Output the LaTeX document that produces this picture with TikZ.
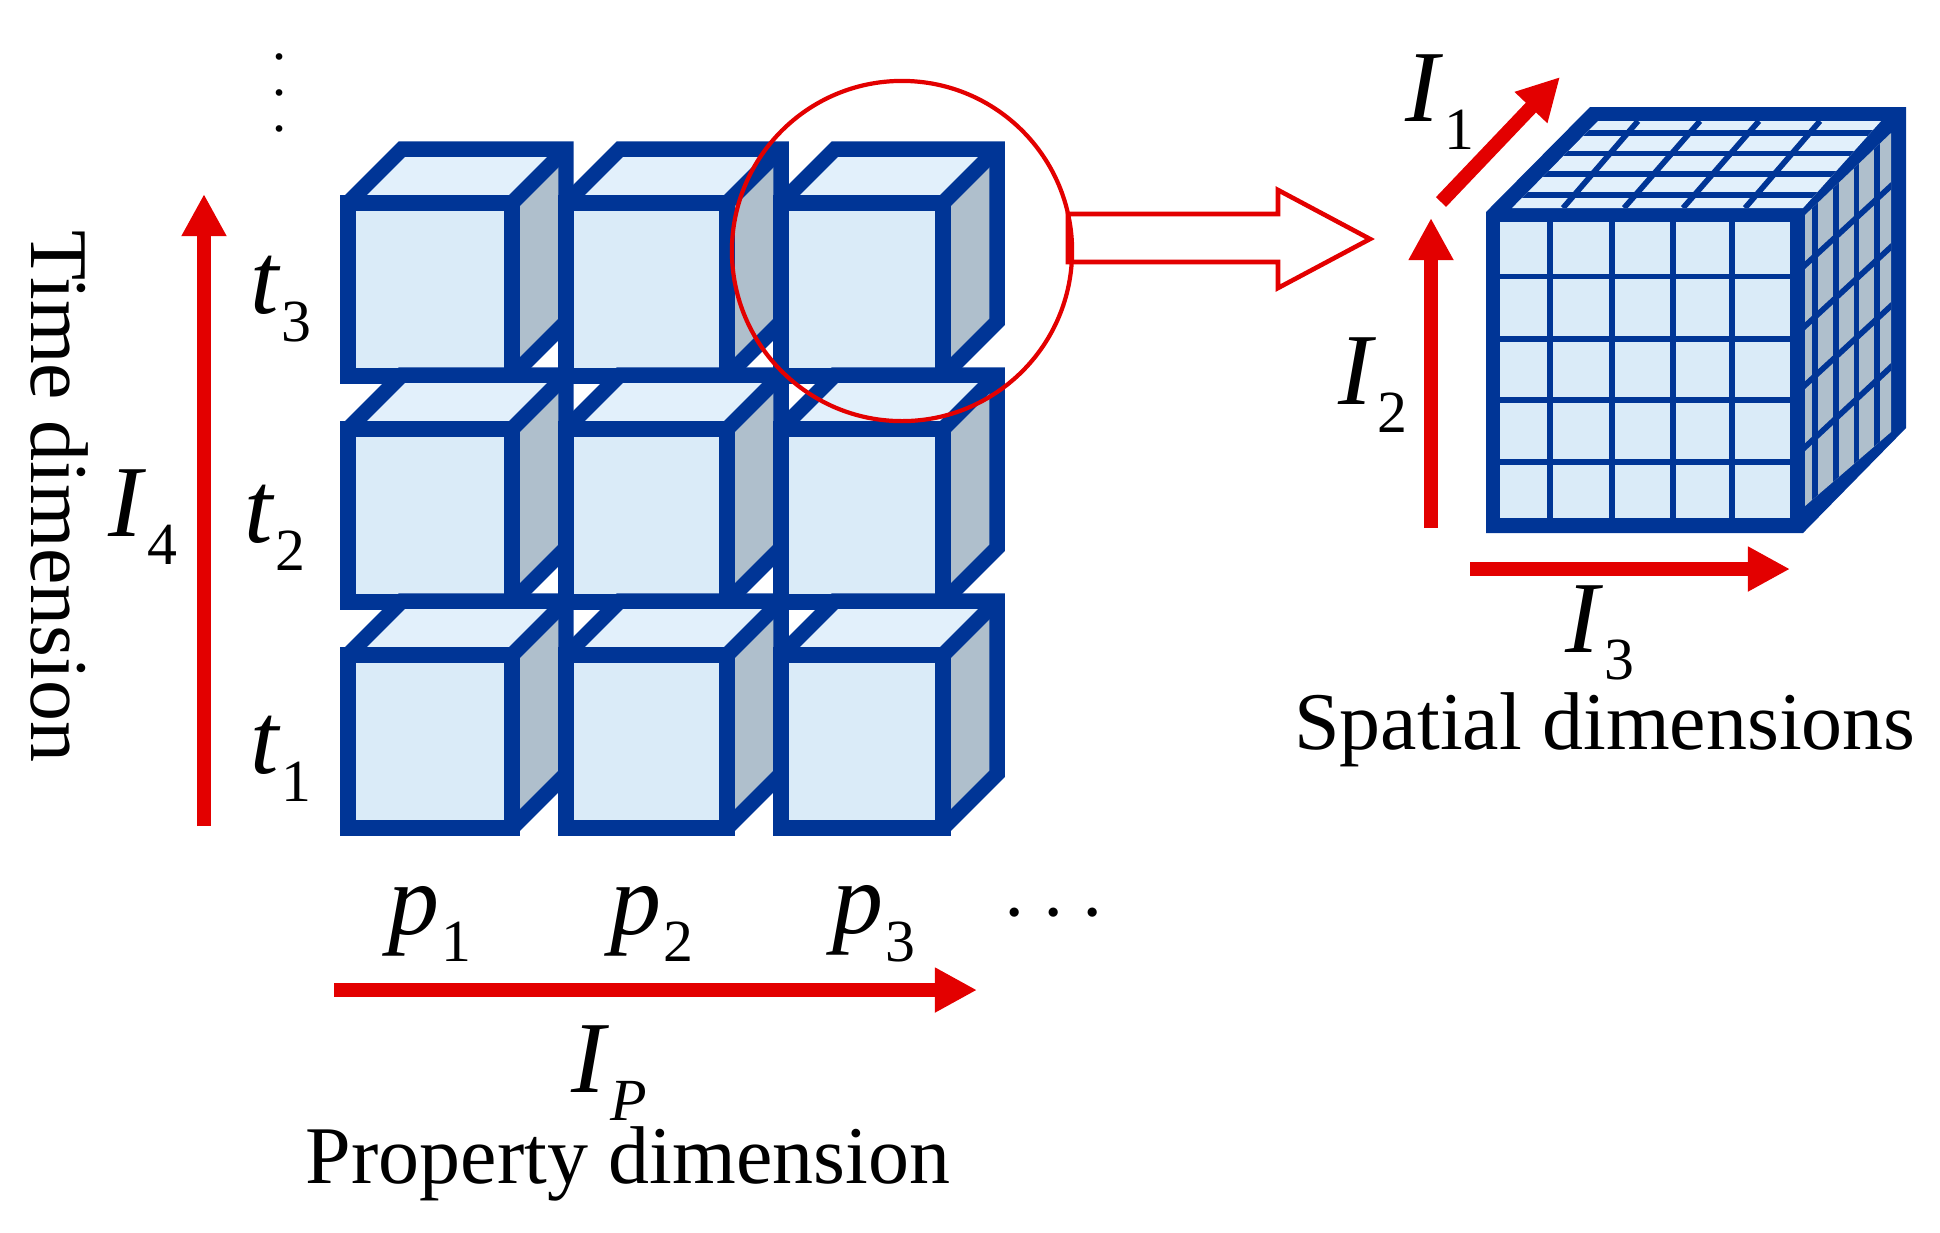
\documentclass[tikz,border=0pt]{standalone}
\usepackage{fontspec}
\setmainfont{Liberation Serif}
\usepackage{tikz}
\usetikzlibrary{arrows.meta, positioning}
\definecolor{cubeblue}{HTML}{003596}
\definecolor{facefront}{HTML}{DAEBF8}
\definecolor{facetop}{HTML}{E2F0FB}
\definecolor{faceside}{HTML}{AFBFCC}
\definecolor{axisred}{HTML}{E30000}
\newcommand{\idx}[2]{\fontsize{29}{32}\selectfont\textit{#1}\raisebox{-0.27em}{\fontsize{17}{18}\selectfont\hspace{0.02em}#2}}

\begin{document}
\begin{tikzpicture}[
  x=0.01cm, y=-0.01cm,
  edge/.style={draw=cubeblue, line width=4.4pt, miter limit=10},
  axis/.style={-{Triangle[length=12pt, width=12pt]}, line width=4pt, axisred},
  lbl/.style={inner sep=0pt},
  captxt/.style={inner sep=0pt, font=\fontsize{23.3}{26}\selectfont},
  cell/.style={cubeblue, line width=1.6pt},
]
  \useasboundingbox (0,0) rectangle (1940,1232);

  % Small cubes: property columns and time rows
  \foreach \cx/\cw in {348/164, 566/161, 781/162} {
    \foreach \cy in {203, 429, 655} {
      \fill[facefront] (\cx,\cy) rectangle ++(\cw,173);
      \fill[facetop] (\cx,\cy) -- ++(54,-54) -- ++(\cw,0) -- ++(-54,54) -- cycle;
      \fill[faceside] (\cx+\cw,\cy) -- ++(54,-54) -- ++(0,173) -- ++(-54,54) -- cycle;
      \draw[edge] (\cx,\cy) rectangle ++(\cw,173);
      \draw[edge] (\cx,\cy) -- ++(54,-54) -- ++(\cw,0) -- ++(0,173) -- ++(-54,54);
      \draw[edge] (\cx+\cw,\cy) -- ++(54,-54);
    }
  }

  % Large cube: body, front, top and side grids
  \fill[cubeblue] (1486,533) -- (1486,212) -- (1590,107) -- (1906,107) -- (1906,428) -- (1803,533) -- cycle;
  \fill[facefront] (1500,222) rectangle (1790,518);
  \foreach \gx in {1550, 1612, 1673, 1732}
    \draw[cell] (\gx,222) -- (\gx,518);
  \foreach \gy in {276.5, 339, 400, 462}
    \draw[cell] (1500,\gy) -- (1790,\gy);
  \begin{scope}
    \clip (1512,208) -- (1598,121) -- (1881,121) -- (1803,208) -- cycle;
    \fill[facetop] (1500,110) rectangle (1900,215);
    \foreach \gb/\gt in {1563/1638, 1624/1700, 1683/1759, 1745/1820}
      \draw[cell] (\gb,208) -- (\gt,121);
    \foreach \gy in {194.7, 174, 153.5, 133}
      \draw[cell] (1500,\gy) -- (1900,\gy);
  \end{scope}
  \begin{scope}
    \clip (1805,215) -- (1891,133) -- (1891,432) -- (1805,506) -- cycle;
    \fill[faceside] (1800,125) rectangle (1900,515);
    \foreach \gx in {1815, 1836, 1856.5, 1877}
      \draw[cell] (\gx,120) -- (\gx,515);
    \foreach \ga/\gb in {265/187, 326/248, 385/307, 447/368}
      \draw[cell] (1803,\ga+2) -- (1893,\gb-3);
  \end{scope}

  % Hollow arrow and lens
  \draw[axisred, line width=1.3pt, fill=white, miter limit=10] (1068,214) -- (1278,214) -- (1278,190) -- (1370,239)
    -- (1278,288) -- (1278,262) -- (1068,262) -- cycle;
  \node[circle, draw=axisred, line width=1.2pt, minimum size=3.4cm, inner sep=0pt] (lens) at (902,251) {};

  % Axes
  \coordinate (i4a) at (204,826);
  \coordinate (i4b) at (204,194);
  \coordinate (ipa) at (334,990);
  \coordinate (ipb) at (977,990);
  \coordinate (i2a) at (1431,528);
  \coordinate (i2b) at (1431,218);
  \coordinate (i1a) at (1441,202);
  \coordinate (i1b) at (1560,77);
  \coordinate (i3a) at (1470,569);
  \coordinate (i3b) at (1790,569);
  \draw[axis] (i4a) -- (i4b);
  \draw[axis] (ipa) -- (ipb);
  \draw[axis] (i2a) -- (i2b);
  \draw[axis] (i1a) -- (i1b);
  \draw[axis] (i3a) -- (i3b);

  % Labels
  \node[lbl] (I4) at (143,517) {\idx{I}{4}};
  \node[lbl] (t3) at (281,299) {\idx{t}{3}};
  \node[lbl] (t2) at (275,528) {\idx{t}{2}};
  \node[lbl] (t1) at (281,759) {\idx{t}{1}};
  \node[lbl] (p1) at (430,924) {\idx{p}{1}};
  \node[lbl] (p2) at (652,924) {\idx{p}{2}};
  \node[lbl] (p3) at (874,924) {\idx{p}{3}};
  \node[lbl] (IP) at (609,1073) {\idx{I}{\textit{P}}};
  \node[lbl] (I1) at (1440,102) {\idx{I}{1}};
  \node[lbl] (I2) at (1373,385) {\idx{I}{2}};
  \node[lbl] (I3) at (1600,633) {\idx{I}{3}};
  \node[lbl, align=center, font=\fontsize{16}{10.2}\selectfont] (vd) at (280,93) {.\\.\\.};
  \node[lbl] (cd) at (1054,915) {\fontsize{25}{25}\selectfont$\cdots$};
  \node[captxt] (space) at (1605,730) {Spatial dimensions};
  \node[captxt] (prop) at (628,1164) {Property dimension};
  \node[captxt, rotate=-90] (time) at (60,496) {Time dimension};
\end{tikzpicture}
\end{document}
